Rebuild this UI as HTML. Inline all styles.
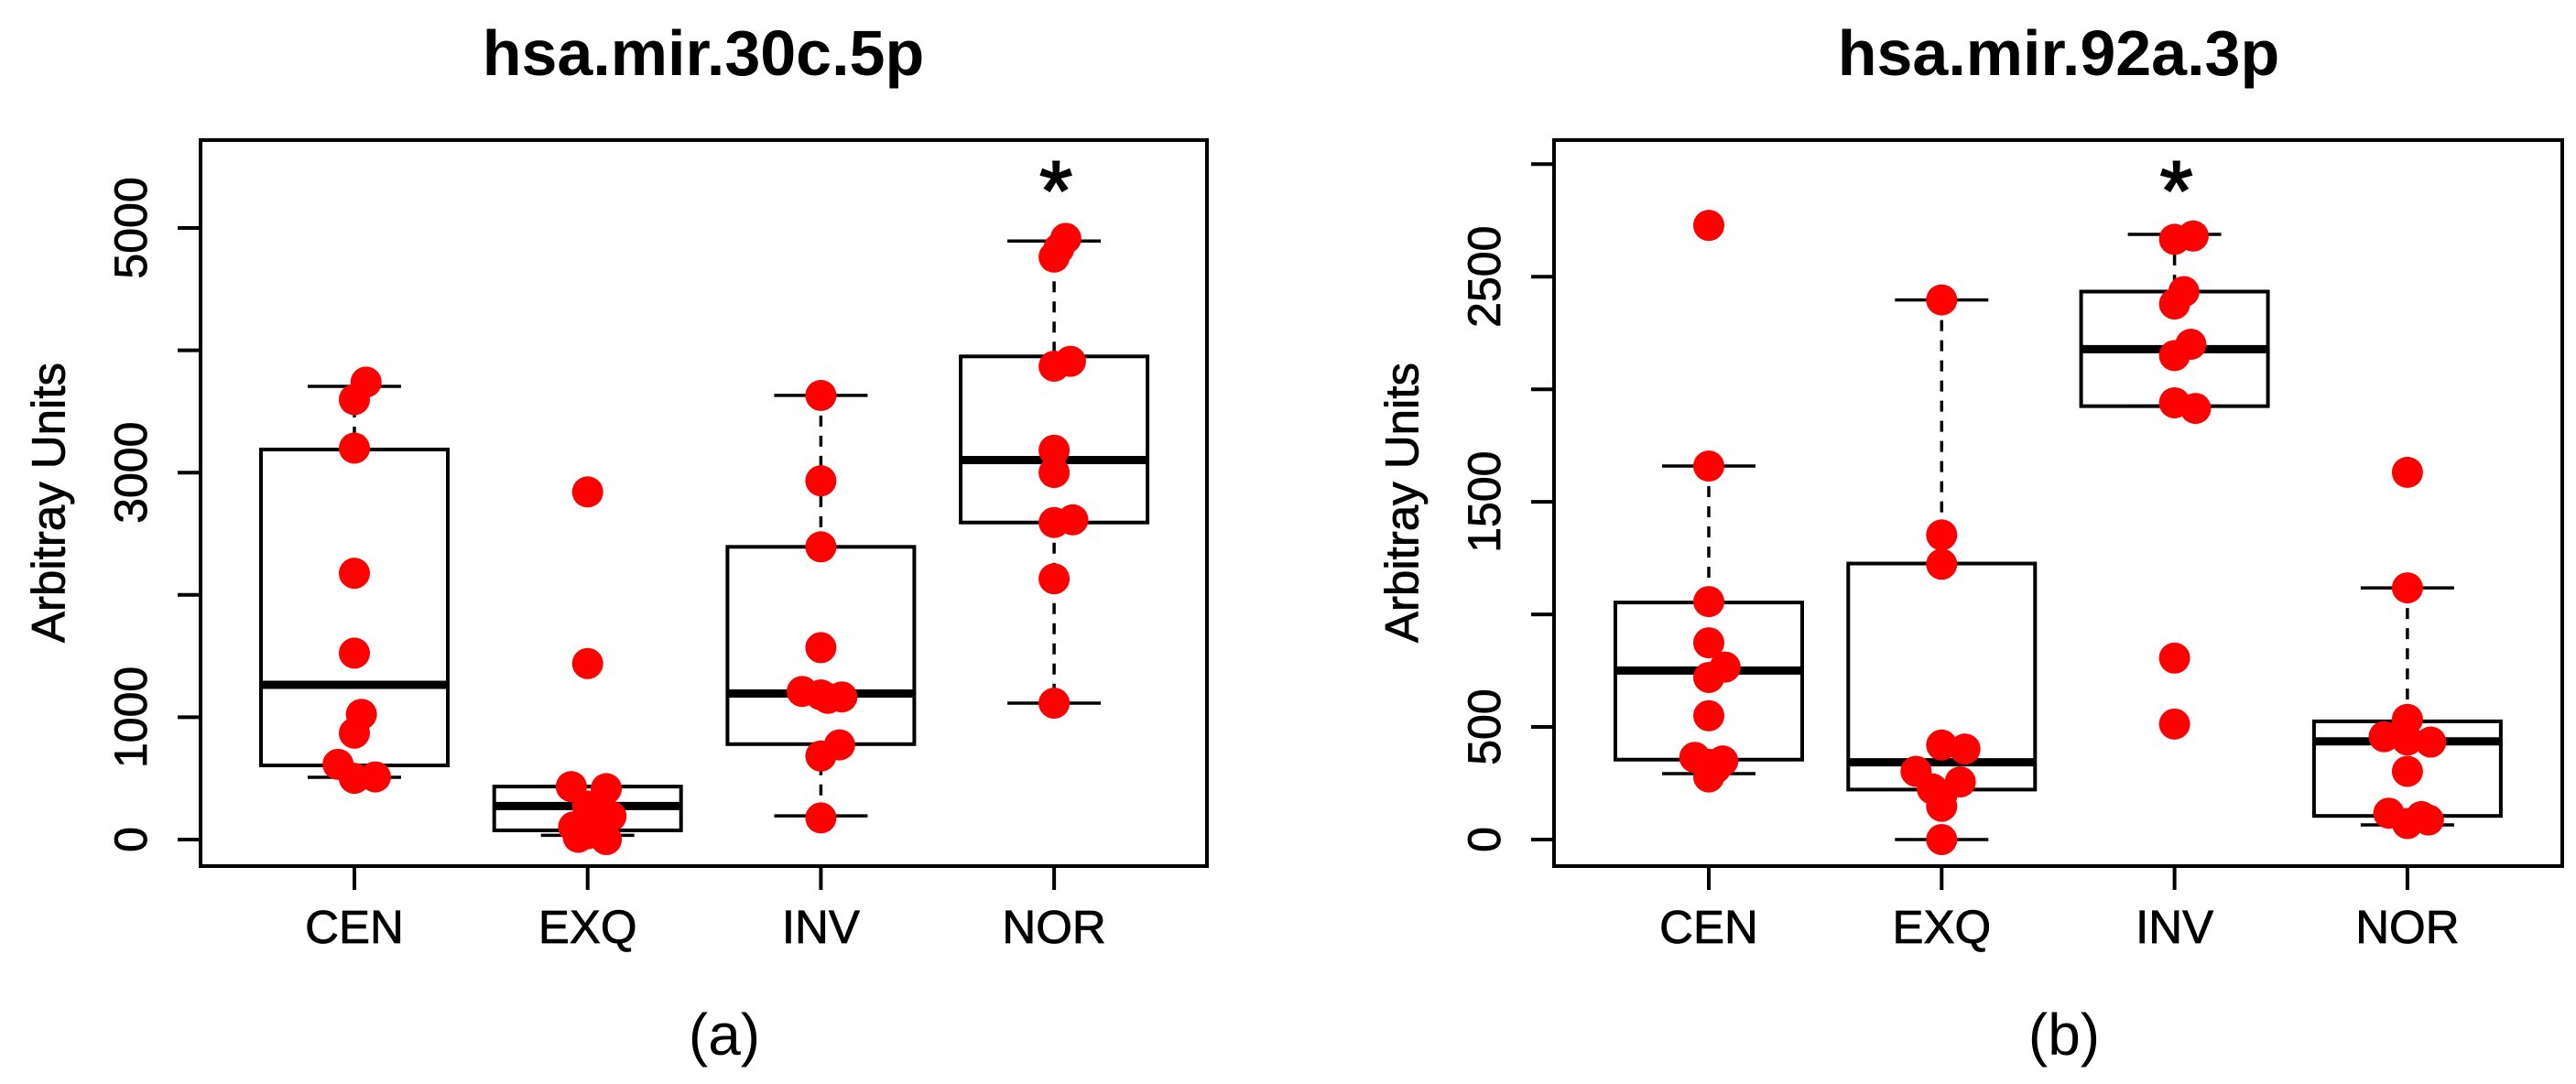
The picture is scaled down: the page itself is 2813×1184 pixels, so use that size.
<!DOCTYPE html>
<html><head><meta charset="utf-8"><style>
html,body{margin:0;padding:0;background:#fff;}
svg{display:block;font-family:"Liberation Sans",Arial,sans-serif;}
</style></head><body>
<svg id="fig" width="2813" height="1184" viewBox="0 0 2813 1184" xmlns="http://www.w3.org/2000/svg"></svg>
<script>
const categories = ["CEN","EXQ","INV","NOR"];
// panel (a) hsa.mir.30c.5p
const aTicks = [0,1000,2000,3000,4000,5000];
const aTickLabels = ["0","1000","","3000","","5000"];
const aWhiskHi = [3705,433,3631,4893];
const aQ3 = [3189,433,2393,3950];
const aMed = [1265,274,1194,3103];
const aQ1 = [606,75,780,2592];
const aWhiskLo = [509,35,194,1115];
const aPtsCEN = [3740,3597,3200,2177,1524,1024,870,615,501,512];
const aPtsEXQ = [2842,1439,433,416,274,190,104,75,47,19,0,150];
const aPtsINV = [3631,2933,2393,1569,1211,1183,1166,1155,774,683,177];
const aPtsNOR = [4915,4830,4762,3910,3870,3183,3001,2614,2592,2132,1115];
const aJitCEN = [0.05,0.0,0.0,0.0,0.0,0.03,0.0,-0.07,0.0,0.09];
const aJitEXQ = [0.0,0.0,-0.07,0.08,0.0,0.1,-0.06,0.05,0.0,-0.04,0.08,0.0];
const aJitINV = [0.0,0.0,0.0,0.0,-0.08,0.0,0.09,0.03,0.08,0.0,0.0];
const aJitNOR = [0.05,0.02,0.0,0.07,0.0,0.0,0.0,0.08,0.0,0.0,0.0];
// panel (b) hsa.mir.92a.3p
const bTicks = [0,500,1000,1500,2000,2500,3000];
const bTickLabels = ["0","500","","1500","","2500",""];
const bWhiskHi = [1659,2397,2688,1118];
const bQ3 = [1053,1226,2434,525];
const bMed = [751,343,2178,436];
const bQ1 = [355,222,1925,105];
const bWhiskLo = [293,0,1925,65];
const bPtsCEN = [2728,1659,1057,874,766,720,550,365,349,334,318,278];
const bPtsEXQ = [2397,1353,1223,420,402,303,256,225,195,148,0];
const bPtsINV = [2681,2666,2434,2379,2200,2150,1940,1915,806,513];
const bPtsNOR = [1631,1118,534,457,442,433,303,117,102,71,87];
const bJitCEN = [0.0,0.0,0.0,0.0,0.07,0.0,0.0,-0.06,0.06,0.0,0.03,0.0];
const bJitEXQ = [0.0,0.0,0.0,0.0,0.1,-0.11,0.08,-0.04,0.0,0.0,0.0];
const bJitINV = [0.08,0.0,0.04,0.0,0.07,0.0,0.0,0.09,0.0,0.0];
const bJitNOR = [0.0,0.0,0.0,-0.1,0.0,0.1,0.0,-0.08,0.06,0.0,0.09];

const NS="http://www.w3.org/2000/svg";
const svg=document.getElementById('fig');
function mk(tag,attrs,parent){const e=document.createElementNS(NS,tag);for(const k in attrs)e.setAttribute(k,attrs[k]);(parent||svg).appendChild(e);return e;}

function panel(cfg){
  const g=mk('g',{});
  
  
  const X=i=>cfg.x0+i*cfg.step;
  const Y=v=>cfg.yZero - v*cfg.pxPer;
  const fr=mk('rect',{x:cfg.L,y:153,width:cfg.R-cfg.L,height:793,fill:'none',stroke:'#000','stroke-width':4},g);
  
  
  const t=mk('text',{x:cfg.tx,y:82,'text-anchor':'middle','font-size':70,'font-weight':'bold'},g);
  t.textContent=cfg.title;
  
  
  cfg.ticks.forEach((v,i)=>{
    const l=mk('line',{x1:cfg.L-25,x2:cfg.L,y1:Y(v),y2:Y(v),stroke:'#000','stroke-width':4},g);
    
    
    if(cfg.tickLabels[i]){
      const tl=mk('text',{x:0,y:0,'text-anchor':'middle','dominant-baseline':'central','font-size':50,stroke:'#000','stroke-width':0.8,transform:`translate(${cfg.L-76},${Y(v)}) rotate(-90)`},g);
      tl.textContent=cfg.tickLabels[i];
      
      
    }
  });
  const yt=mk('text',{x:0,y:0,'text-anchor':'middle','dominant-baseline':'central','font-size':51,stroke:'#000','stroke-width':0.8,transform:`translate(${cfg.L-166},549) rotate(-90)`},g);
  yt.textContent='Arbitray Units';
  
  
  categories.forEach((c,i)=>{
    const l=mk('line',{x1:X(i),x2:X(i),y1:946,y2:972,stroke:'#000','stroke-width':4},g);
    
    
    const tl=mk('text',{x:X(i),y:1030,'text-anchor':'middle','font-size':51,stroke:'#000','stroke-width':0.8},g);
    tl.textContent=c;
    
    
  });
  const hb=102, hc=51;
  categories.forEach((c,i)=>{
    const x=X(i);
    const bg=mk('g',{},g);
    
    
    mk('line',{x1:x,x2:x,y1:Y(cfg.wHi[i]),y2:Y(cfg.q3[i]),stroke:'#000','stroke-width':3.5,'stroke-dasharray':'12,10'},bg);
    mk('line',{x1:x,x2:x,y1:Y(cfg.q1[i]),y2:Y(cfg.wLo[i]),stroke:'#000','stroke-width':3.5,'stroke-dasharray':'12,10'},bg);
    mk('line',{x1:x-hc,x2:x+hc,y1:Y(cfg.wHi[i]),y2:Y(cfg.wHi[i]),stroke:'#000','stroke-width':3.5},bg);
    mk('line',{x1:x-hc,x2:x+hc,y1:Y(cfg.wLo[i]),y2:Y(cfg.wLo[i]),stroke:'#000','stroke-width':3.5},bg);
    mk('rect',{x:x-hb,y:Y(cfg.q3[i]),width:2*hb,height:Y(cfg.q1[i])-Y(cfg.q3[i]),fill:'none',stroke:'#000','stroke-width':4},bg);
    mk('line',{x1:x-hb,x2:x+hb,y1:Y(cfg.med[i]),y2:Y(cfg.med[i]),stroke:'#000','stroke-width':9},bg);
  });
  cfg.pts.forEach((arr,i)=>{
    arr.forEach((v,j)=>{
      const p=mk('circle',{cx:X(i+cfg.jit[i][j]),cy:Y(v),r:17,fill:'#ff0000'},g);
      
      
    });
  });
  const s=mk('text',{x:X(cfg.starIdx)+2,y:240,'text-anchor':'middle','font-size':92,stroke:'#000','stroke-width':2},g);
  s.textContent='*';
  
  
  const sub=mk('text',{x:cfg.subX,y:1152,'text-anchor':'middle','font-size':64},g);
  sub.textContent=cfg.sub;
  
  
}

panel({name:'panel-a',title:'hsa.mir.30c.5p',sub:'(a)',L:219,R:1318,x0:387,step:254.7,yZero:917,pxPer:0.1336,
  tx:768,subX:791,ticks:aTicks,tickLabels:aTickLabels,wHi:aWhiskHi,q3:aQ3,med:aMed,q1:aQ1,wLo:aWhiskLo,
  pts:[aPtsCEN,aPtsEXQ,aPtsINV,aPtsNOR],jit:[aJitCEN,aJitEXQ,aJitINV,aJitNOR],starIdx:3});
panel({name:'panel-b',title:'hsa.mir.92a.3p',sub:'(b)',L:1697,R:2798,x0:1866,step:254.3,yZero:917,pxPer:0.2459,
  tx:2248,subX:2254,ticks:bTicks,tickLabels:bTickLabels,wHi:bWhiskHi,q3:bQ3,med:bMed,q1:bQ1,wLo:bWhiskLo,
  pts:[bPtsCEN,bPtsEXQ,bPtsINV,bPtsNOR],jit:[bJitCEN,bJitEXQ,bJitINV,bJitNOR],starIdx:2});
</script>
</body></html>
